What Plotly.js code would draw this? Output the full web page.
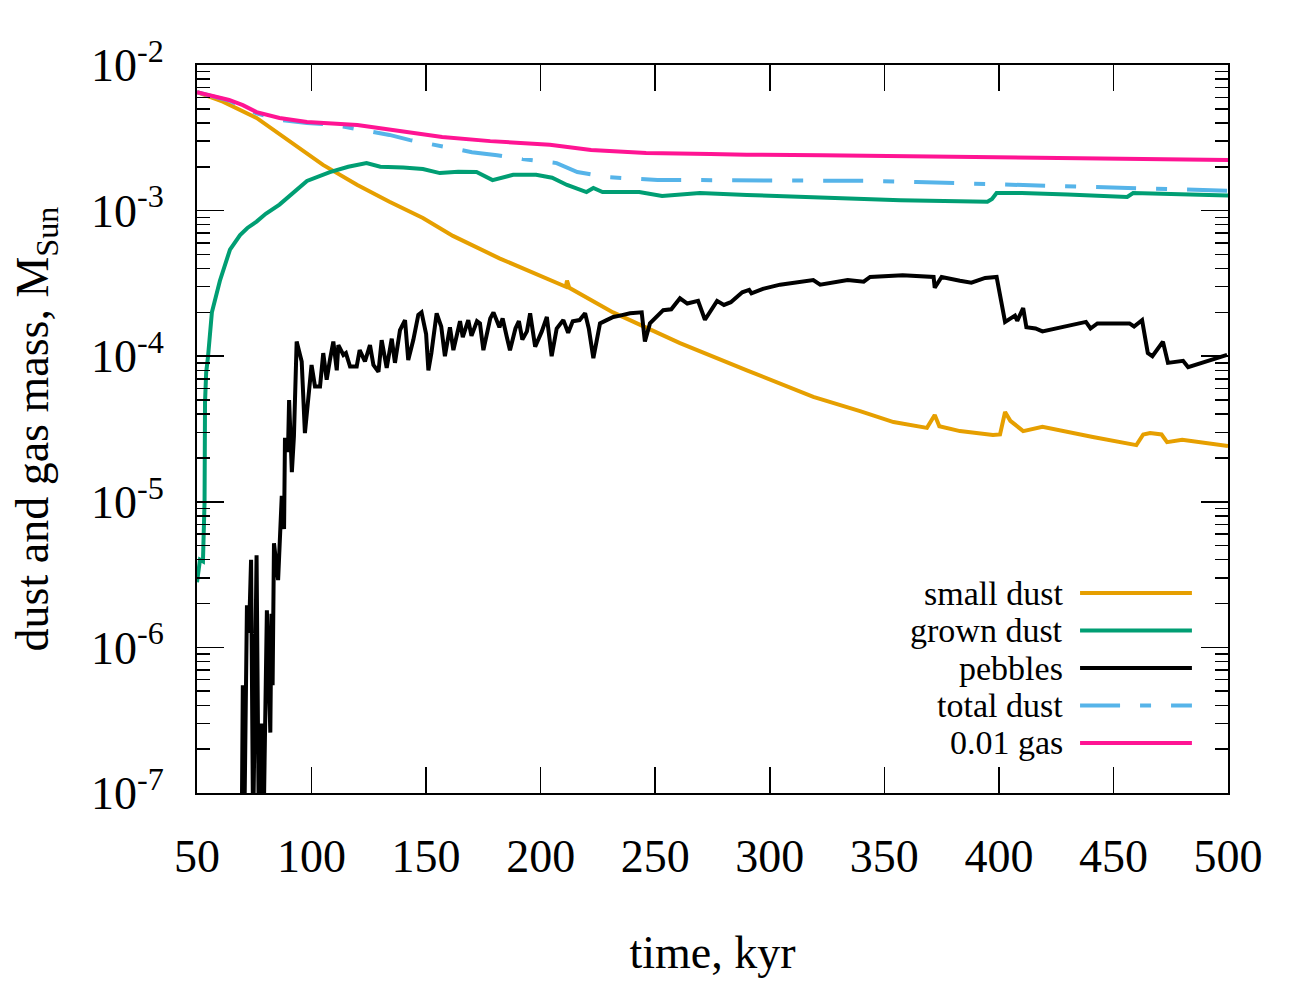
<!DOCTYPE html>
<html>
<head>
<meta charset="utf-8">
<script src="https://cdn.plot.ly/plotly-3.0.1.min.js"></script>
<style>
  body { margin: 0; background: #fff; }
  #graph { width: 1300px; height: 1000px; }
</style>
</head>
<body>
<div id="graph"></div>
<script>
// series: time in kyr, mass in M_Sun
var smallT = [50, 61.3, 76, 90.6, 105, 120, 134, 148.6, 161.7, 182, 199.7, 211, 211.5, 212.5, 231.6, 260.8, 290, 319, 339.4, 354, 368.6, 372, 374, 383, 397.4, 400.5, 402.7, 405, 410.6, 419, 441, 460, 463, 466, 471, 473.4, 480, 500];
var smallM = [6.5e-3, 5.6e-3, 4.33e-3, 2.95e-3, 2.06e-3, 1.5e-3, 1.15e-3, 8.9e-4, 6.7e-4, 4.7e-4, 3.55e-4, 3.0e-4, 3.3e-4, 2.95e-4, 2.0e-4, 1.23e-4, 8.0e-5, 5.25e-5, 4.2e-5, 3.53e-5, 3.22e-5, 3.95e-5, 3.3e-5, 3.06e-5, 2.88e-5, 2.9e-5, 4.14e-5, 3.6e-5, 3.06e-5, 3.27e-5, 2.79e-5, 2.45e-5, 2.9e-5, 2.97e-5, 2.9e-5, 2.57e-5, 2.67e-5, 2.42e-5];

var grownT = [50, 51.3, 52.6, 53.3, 53.5, 54, 54.8, 56.5, 60, 64.4, 68.8, 72, 76, 80, 86, 90.6, 98, 108, 116, 124, 130, 140, 148.6, 156, 164, 172, 179, 188, 198, 205, 211.5, 220, 223, 227, 243, 253, 269.5, 290, 313, 357, 395, 397, 399, 410, 430, 456, 458.6, 475, 492, 500];
var grownM = [2.8e-6, 4.0e-6, 3.9e-6, 1.0e-5, 4.8e-5, 7.7e-5, 9.9e-5, 2.0e-4, 3.3e-4, 5.4e-4, 6.8e-4, 7.6e-4, 8.4e-4, 9.5e-4, 1.1e-3, 1.28e-3, 1.6e-3, 1.84e-3, 2.0e-3, 2.12e-3, 2.0e-3, 1.98e-3, 1.93e-3, 1.81e-3, 1.85e-3, 1.84e-3, 1.62e-3, 1.76e-3, 1.76e-3, 1.68e-3, 1.5e-3, 1.34e-3, 1.43e-3, 1.34e-3, 1.34e-3, 1.26e-3, 1.32e-3, 1.28e-3, 1.24e-3, 1.18e-3, 1.15e-3, 1.2e-3, 1.32e-3, 1.32e-3, 1.29e-3, 1.24e-3, 1.32e-3, 1.3e-3, 1.28e-3, 1.27e-3];

var pebT = [69.5, 70, 70.6, 71.8, 72.7, 73.6, 74.5, 76, 77, 78, 79, 80.5, 82, 82.5, 83, 83.6, 85.4, 87, 88, 88.4, 89.7, 90.2, 91.4, 92.3,
  93.5, 95.7, 97.1, 100, 101.5, 103.7, 105.1, 106.6, 108, 109.5, 111, 111.7, 113.9, 115, 116.8, 119.7, 121, 123.3, 125.5, 127, 129.2, 130.6, 132.8, 135, 136.4, 138.6, 140.8, 142.2, 144.4, 146.6, 148, 150, 151, 152.3, 154.6, 156.6, 158.2, 160.4, 161.9, 164.8, 166, 168.4, 169.8, 172.2, 173.5, 175, 178, 179.4, 182, 183.4, 185.2, 186.6, 189, 190.5, 192, 194, 195.4, 197.6, 200.5, 202.7, 204.8, 207, 209.9, 212, 214, 217, 219.4, 221, 223, 225.9, 228.8, 231.7, 234.6, 239, 244.1, 245.5, 247.7, 250.6, 253.5, 257, 260.8,
  264, 268.7, 271.7, 277, 280, 283, 288, 291, 292, 297, 304.5, 319, 322, 334, 341, 343.8, 358, 371.5, 372, 375, 383, 388, 394, 399, 402.7, 407, 408, 410.6, 412, 416, 419, 438, 440, 443, 457, 459, 462.5, 465, 467, 471.6, 473.8, 480.4, 482.6, 499.6];
var pebM = [5e-8, 5.5e-7, 5e-8, 1.95e-6, 1.26e-6, 4e-6, 5e-8, 4.3e-6, 5e-8, 3e-7, 5e-8, 1.8e-6, 2.6e-7, 1.7e-6, 5.5e-7, 5.2e-6, 2.9e-6, 1.1e-5, 6.5e-6, 2.75e-5, 2.2e-5, 5e-5, 1.6e-5, 2.8e-5,
  1.26e-4, 9.2e-5, 2.96e-5, 8.7e-5, 6.2e-5, 6.2e-5, 1.05e-4, 6.9e-5, 9.4e-5, 1.26e-4, 8.0e-5, 1.19e-4, 1.02e-4, 1.05e-4, 8.5e-5, 8.5e-5, 1.1e-4, 9.2e-5, 1.19e-4, 8.7e-5, 7.8e-5, 1.29e-4, 8.3e-5, 1.32e-4, 9.0e-5, 1.51e-4, 1.77e-4, 9.4e-5, 1.29e-4, 1.92e-4, 2.0e-4, 1.42e-4, 8.0e-5, 1.05e-4, 1.97e-4, 1.6e-4, 1.0e-4, 1.58e-4, 1.1e-4, 1.74e-4, 1.35e-4, 1.77e-4, 1.38e-4, 1.74e-4, 1.68e-4, 1.1e-4, 1.82e-4, 2.0e-4, 1.58e-4, 1.82e-4, 1.36e-4, 1.1e-4, 1.55e-4, 1.74e-4, 1.3e-4, 1.48e-4, 1.97e-4, 1.16e-4, 1.48e-4, 1.86e-4, 1.0e-4, 1.55e-4, 1.77e-4, 1.45e-4, 1.74e-4, 1.77e-4, 1.97e-4, 1.55e-4, 9.7e-5, 1.68e-4, 1.77e-4, 1.86e-4, 1.9e-4, 1.97e-4, 2.0e-4, 1.26e-4, 1.68e-4, 1.86e-4, 2.07e-4, 2.1e-4, 2.5e-4,
  2.3e-4, 2.4e-4, 1.78e-4, 2.4e-4, 2.25e-4, 2.35e-4, 2.75e-4, 2.85e-4, 2.7e-4, 2.9e-4, 3.1e-4, 3.33e-4, 3.1e-4, 3.33e-4, 3.25e-4, 3.5e-4, 3.6e-4, 3.5e-4, 2.95e-4, 3.5e-4, 3.3e-4, 3.2e-4, 3.45e-4, 3.5e-4, 1.72e-4, 1.9e-4, 1.75e-4, 2.14e-4, 1.58e-4, 1.55e-4, 1.48e-4, 1.72e-4, 1.55e-4, 1.68e-4, 1.68e-4, 1.6e-4, 1.77e-4, 1.05e-4, 1.0e-4, 1.26e-4, 9.0e-5, 9.3e-5, 8.4e-5, 1.02e-4];

var totalT = [50, 64, 76, 86, 98, 108, 115, 125, 134, 143, 153, 162, 170, 181, 192, 207, 216, 229, 251, 267, 286, 342, 364, 400, 437, 473, 500];
var totalM = [6.5e-3, 5.7e-3, 4.65e-3, 4.2e-3, 4.0e-3, 3.9e-3, 3.75e-3, 3.5e-3, 3.31e-3, 3.05e-3, 2.83e-3, 2.65e-3, 2.52e-3, 2.4e-3, 2.26e-3, 2.12e-3, 1.84e-3, 1.7e-3, 1.62e-3, 1.62e-3, 1.62e-3, 1.6e-3, 1.57e-3, 1.52e-3, 1.47e-3, 1.41e-3, 1.37e-3];

var gasT = [50, 55, 64, 70, 76, 86, 98, 120, 142, 157, 178, 204, 222, 246, 274, 290, 323, 354, 383, 421, 459, 500];
var gasM = [6.5e-3, 6.2e-3, 5.75e-3, 5.3e-3, 4.75e-3, 4.33e-3, 4.06e-3, 3.87e-3, 3.47e-3, 3.2e-3, 3.0e-3, 2.83e-3, 2.61e-3, 2.49e-3, 2.45e-3, 2.42e-3, 2.40e-3, 2.37e-3, 2.33e-3, 2.30e-3, 2.26e-3, 2.23e-3];

var seriesNames = ['small dust', 'grown dust', 'pebbles', 'total dust', '0.01 gas'];
var seriesColors = ['#E69F00', '#009E73', '#000000', '#56B4E9', '#FF1493'];
var seriesDash = ['solid', 'solid', 'solid', '40px,20px,11px,20px', 'solid'];

var xTicks = [50, 100, 150, 200, 250, 300, 350, 400, 450, 500];
var yTicks = [1e-7, 1e-6, 1e-5, 1e-4, 1e-3, 1e-2];
var yTickText = ['10<sup>-7</sup>', '10<sup>-6</sup>', '10<sup>-5</sup>', '10<sup>-4</sup>', '10<sup>-3</sup>', '10<sup>-2</sup>'];

var FONT = 'Liberation Serif, Times New Roman, serif';

//minor tick positions 2..9 inside each decade
function minorLogTicks(lo, hi){
  let vals = [];
  for(let e = lo; e < hi; e++){
    for(let d = 2; d <= 9; d++){
      vals.push(d * Math.pow(10, e));
    }
  }
  return vals;
}

//builds the line traces in drawing order
function makeTraces(){
  let xs = [smallT, grownT, pebT, totalT, gasT];
  let ys = [smallM, grownM, pebM, totalM, gasM];
  let data = [];
  for(let i = 0; i < seriesNames.length; i++){
    data.push({
      x: xs[i],
      y: ys[i],
      name: seriesNames[i],
      type: 'scatter',
      mode: 'lines',
      line: {color: seriesColors[i], width: 4, dash: seriesDash[i]}
    });
  }
  return data;
}

//legend drawn by hand: text on the left, line sample on the right
function makeKey(){
  let annotations = [];
  let shapes = [];
  let top = 0.2747, step = 0.0515;
  for(let i = 0; i < seriesNames.length; i++){
    let y = top - i * step;
    annotations.push({
      xref: 'paper', yref: 'paper', x: 0.842, y: y,
      xanchor: 'right', yanchor: 'middle', showarrow: false,
      text: seriesNames[i],
      font: {family: FONT, size: 34, color: '#000'}
    });
    shapes.push({
      type: 'line', xref: 'paper', yref: 'paper',
      x0: 0.8565, x1: 0.965, y0: y, y1: y,
      line: {color: seriesColors[i], width: 4, dash: seriesDash[i]}
    });
  }
  return {annotations: annotations, shapes: shapes};
}

function drawChart(){
  let key = makeKey();
  let layout = {
    width: 1300,
    height: 1000,
    margin: {l: 197, r: 72, t: 65, b: 207},
    paper_bgcolor: '#fff',
    plot_bgcolor: '#fff',
    showlegend: false,
    font: {family: FONT, size: 46, color: '#000'},
    xaxis: {
      range: [50, 500],
      tickmode: 'array',
      tickvals: xTicks,
      ticks: 'inside',
      ticklen: 26,
      tickwidth: 1.5,
      tickcolor: '#000',
      showline: true,
      linewidth: 2,
      linecolor: '#000',
      mirror: 'allticks',
      showgrid: false,
      zeroline: false,
      ticklabelstandoff: 22,
      tickfont: {family: FONT, size: 46},
      title: {text: 'time, kyr', font: {family: FONT, size: 46}, standoff: 55}
    },
    yaxis: {
      type: 'log',
      range: [-7, -2],
      tickmode: 'array',
      tickvals: yTicks,
      ticktext: yTickText,
      ticks: 'inside',
      ticklen: 27,
      tickwidth: 1.5,
      tickcolor: '#000',
      minor: {
        tickmode: 'array',
        tickvals: minorLogTicks(-7, -2),
        ticks: 'inside',
        ticklen: 13,
        tickwidth: 1.5,
        tickcolor: '#000',
        showgrid: false
      },
      showline: true,
      linewidth: 2,
      linecolor: '#000',
      mirror: 'allticks',
      showgrid: false,
      zeroline: false,
      ticklabelstandoff: 22,
      tickfont: {family: FONT, size: 46},
      title: {text: 'dust and gas mass, M<sub>Sun</sub>', font: {family: FONT, size: 46}, standoff: 28}
    },
    annotations: key.annotations,
    shapes: key.shapes
  };

  Plotly.newPlot('graph', makeTraces(), layout, {staticPlot: true});
}

drawChart();
</script>
</body>
</html>
